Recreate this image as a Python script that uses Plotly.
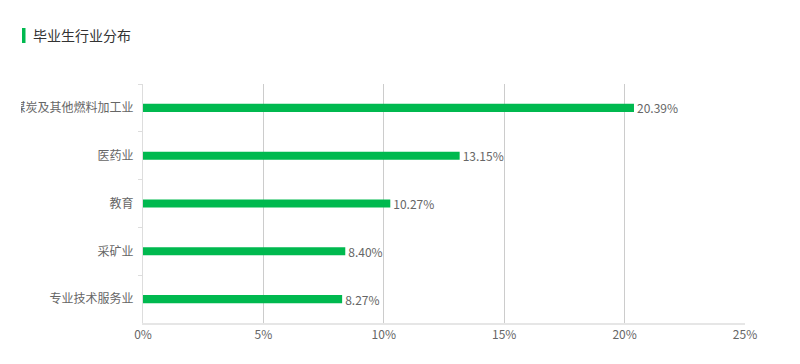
import plotly.graph_objects as go

categories = ["石油、煤炭及其他燃料加工业", "医药业", "教育", "采矿业", "专业技术服务业"]
values = [20.39, 13.15, 10.27, 8.40, 8.27]
labels = ["20.39%", "13.15%", "10.27%", "8.40%", "8.27%"]
x_ticks = [0, 5, 10, 15, 20, 25]
x_ticktext = ["0%", "5%", "10%", "15%", "20%", "25%"]

GREEN = "#00b94f"
FONT = "Noto Sans CJK SC"

# page body has an 8px margin; figure coordinates are offset accordingly
W, H = 792, 356
L, R, T, B = 135, 55, 76, 41
pw, ph = W - L - R, H - T - B

fig = go.Figure(go.Bar(
    x=values, y=categories, orientation="h",
    marker=dict(color=GREEN, line=dict(width=0)),
    width=0.17,
    text=labels, textposition="outside", cliponaxis=False, constraintext="none",
    textfont=dict(size=12, color="#666666", family=FONT),
))

fig.update_layout(
    width=W, height=H,
    margin=dict(l=L, r=R, t=T, b=B, autoexpand=False),
    plot_bgcolor="white", paper_bgcolor="white",
    font=dict(family=FONT, size=12, color="#666666"),
    showlegend=False,
    title=dict(text="毕业生行业分布", x=25 / W, xanchor="left", xref="container",
               y=1 - 28 / H, yanchor="middle", yref="container",
               font=dict(size=14, color="#333333", family=FONT)),
    xaxis=dict(range=[0, 25], tickvals=x_ticks, ticktext=x_ticktext,
               showgrid=True, gridcolor="#cccccc", gridwidth=1,
               zeroline=False, showline=True, linecolor="#e6e6e6", linewidth=2,
               ticks="", tickfont=dict(size=12, color="#666666"), automargin=False),
    yaxis=dict(categoryorder="array", categoryarray=categories, autorange="reversed",
               showgrid=False, zeroline=False, showline=True, linecolor="#dddddd", linewidth=1,
               ticks="outside", ticklen=4, tickcolor="#dddddd", tickson="boundaries",
               ticklabelstandoff=6,
               tickfont=dict(size=12, color="#666666"), automargin=False),
    shapes=[
        dict(type="rect", xref="paper", yref="paper",
             x0=(14 - L) / pw, x1=(17.5 - L) / pw,
             y0=(H - B - 35) / ph, y1=(H - B - 20) / ph,
             fillcolor=GREEN, line=dict(width=0)),
        # container edge clips the long category label, as in the original
        dict(type="rect", xref="paper", yref="paper", layer="above",
             x0=-L / pw, x1=(13 - L) / pw,
             y0=(H - B - 112) / ph, y1=(H - B - 86) / ph,
             fillcolor="white", line=dict(width=0)),
    ],
)

fig.write_html("out.html")
